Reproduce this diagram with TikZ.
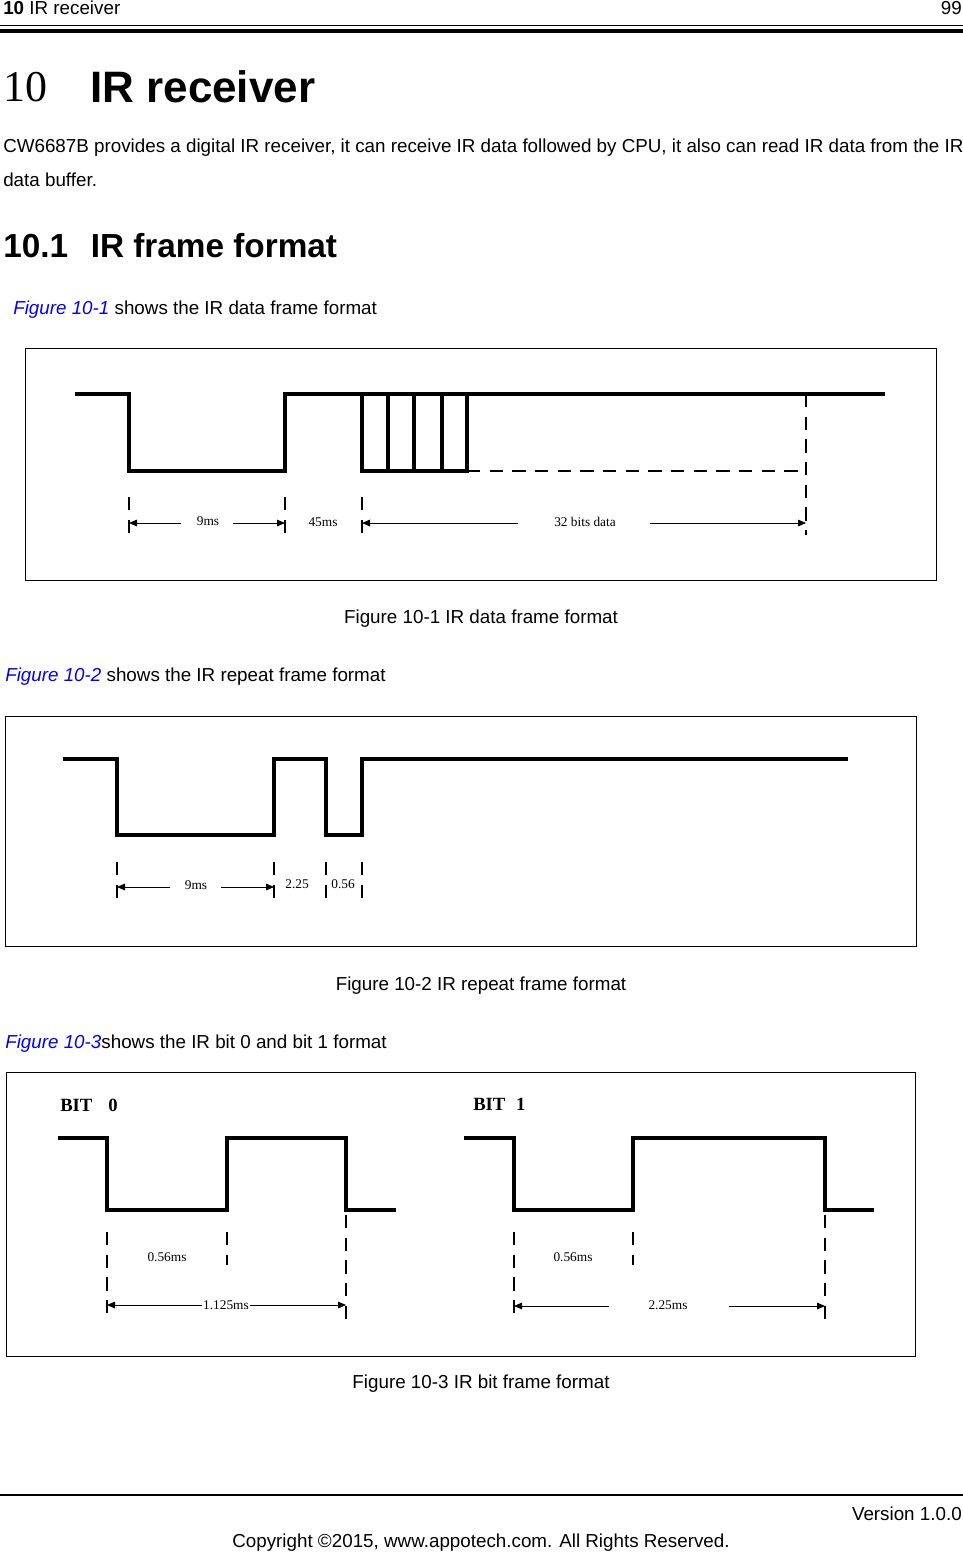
\documentclass[tikz,border=0pt]{standalone}
\usepackage{fontspec}
\setmainfont{Liberation Sans}
\newfontfamily\serif{Liberation Serif}
\usetikzlibrary{arrows.meta}
\definecolor{linkblue}{RGB}{0,0,255}
\begin{document}
\begin{tikzpicture}[x=0.75pt,y=-0.75pt,
  wave/.style={line width=2.6pt},
  dsh/.style={line width=1pt,dash pattern=on 10pt off 7pt},
  dim/.style={line width=0.6pt,-{Triangle[length=6pt,width=5pt]}},
  lbl/.style={font=\serif\fontsize{10}{12}\selectfont,inner sep=1pt},
  body/.style={font=\fontsize{14.1}{16}\selectfont,inner sep=0pt},
  captext/.style={font=\fontsize{14.1}{16}\selectfont,inner sep=0pt},
  frame/.style={line width=0.6pt}]
\useasboundingbox (0,0) rectangle (963,1553);
% header
\node[anchor=west,body] (h1) at (3,8) {\textbf{10} IR receiver};
\node[anchor=east,body] (h2) at (962,8) {99};
\draw[line width=0.6pt] (0,25) -- (963,25);
\draw[line width=3.5pt] (0,31) -- (963,31);
\node[anchor=west,inner sep=0pt,font=\serif\fontsize{33}{36}\selectfont] (t1) at (3,87) {10};
\node[anchor=west,inner sep=0pt,font=\bfseries\fontsize{33}{40}\selectfont] (t2) at (90,87) {IR receiver};
\node[anchor=west,body] (p1) at (3,148) {CW6687B provides a digital IR receiver, it can receive IR data followed by CPU, it also can read IR data from the IR};
\node[anchor=west,body] (p2) at (3,180) {data buffer.};
\node[anchor=west,inner sep=0pt,font=\bfseries\fontsize{25}{30}\selectfont] (s1) at (3,246) {10.1\hspace{17pt}IR frame format};
\node[anchor=west,body] (r1) at (13,310) {\textcolor{linkblue}{\itshape Figure 10-1} shows the IR data frame format};
% figure 1
\draw[frame] (25,348) rectangle (936,580);
\draw[wave] (75,394) -- (129,394) -- (129,471) -- (285,471) -- (285,394) -- (885,394);
\draw[wave] (362,394) -- (362,471) -- (467,471) -- (467,394);
\foreach \x in {388,414,442} \draw[wave] (\x,394) -- (\x,471);
\draw[dsh] (467,471) -- (806,471);
\draw[dsh] (806,394) -- (806,535);
\foreach \x in {129,285,362} \draw[dsh] (\x,497) -- (\x,540);
\node[lbl] (a1) at (208,521) {9ms};
\node[lbl] (a2) at (323,522) {45ms};
\node[lbl] (a3) at (585,522) {32 bits data};
\draw[dim] (181,523) -- (129,523);
\draw[dim] (233,523) -- (285,523);
\draw[dim] (518,523) -- (362,523);
\draw[dim] (650,523) -- (806,523);
\node[captext] (c1) at (481,619) {Figure 10-1 IR data frame format};
\node[anchor=west,body] (r2) at (5,677) {\textcolor{linkblue}{\itshape Figure 10-2} shows the IR repeat frame format};
% figure 2
\draw[frame] (5,716) rectangle (916,946);
\draw[wave] (63,759) -- (117,759) -- (117,835) -- (274,835) -- (274,759) -- (326,759) -- (326,835) -- (362,835) -- (362,759) -- (848,759);
\foreach \x in {117,274,326,362} \draw[dsh] (\x,862) -- (\x,903);
\node[lbl] (b1) at (196,885) {9ms};
\node[lbl] (b2) at (297,884) {2.25};
\node[lbl] (b3) at (343,884) {0.56};
\draw[dim] (170,887) -- (117,887);
\draw[dim] (221,887) -- (274,887);
\node[captext] (c2) at (481,986) {Figure 10-2 IR repeat frame format};
\node[anchor=west,body] (r3) at (5,1044) {\textcolor{linkblue}{\itshape Figure 10-3}shows the IR bit 0 and bit 1 format};
% figure 3
\draw[frame] (6,1072) rectangle (915,1356);
\node[anchor=west,inner sep=0pt,font=\serif\bfseries\fontsize{14}{16}\selectfont] (k0) at (60,1105) {BIT\hspace{12pt}0};
\node[anchor=west,inner sep=0pt,font=\serif\bfseries\fontsize{14}{16}\selectfont] (k1) at (473,1104) {BIT\hspace{8pt}1};
\draw[wave] (58,1138) -- (107,1138) -- (107,1210) -- (227,1210) -- (227,1138) -- (346,1138) -- (346,1210) -- (396,1210);
\draw[dsh] (107,1232) -- (107,1320);
\draw[dsh] (227,1232) -- (227,1265);
\draw[dsh] (346,1215) -- (346,1325);
\node[lbl] (d1) at (167,1257) {0.56ms};
\node[lbl,fill=white] (d2) at (226,1305) {1.125ms};
\draw[dim] (d2.west) -- (107,1305);
\draw[dim] (d2.east) -- (346,1305);
\draw[wave] (464,1138) -- (514,1138) -- (514,1210) -- (633,1210) -- (633,1138) -- (825,1138) -- (825,1210) -- (874,1210);
\draw[dsh] (514,1232) -- (514,1320);
\draw[dsh] (633,1232) -- (633,1265);
\draw[dsh] (825,1215) -- (825,1320);
\node[lbl] (e1) at (573,1257) {0.56ms};
\node[lbl] (e2) at (668,1305) {2.25ms};
\draw[dim] (609,1306) -- (514,1306);
\draw[dim] (729,1306) -- (825,1306);
\node[captext] (c3) at (481,1384) {Figure 10-3 IR bit frame format};
% footer
\draw[line width=1.6pt] (0,1495) -- (963,1495);
\node[anchor=east,body] (f1) at (962,1514) {Version 1.0.0};
\node[body] (f2) at (481,1543) {Copyright ©2015, www.appotech.com. All Rights Reserved.};
\end{tikzpicture}
\end{document}
